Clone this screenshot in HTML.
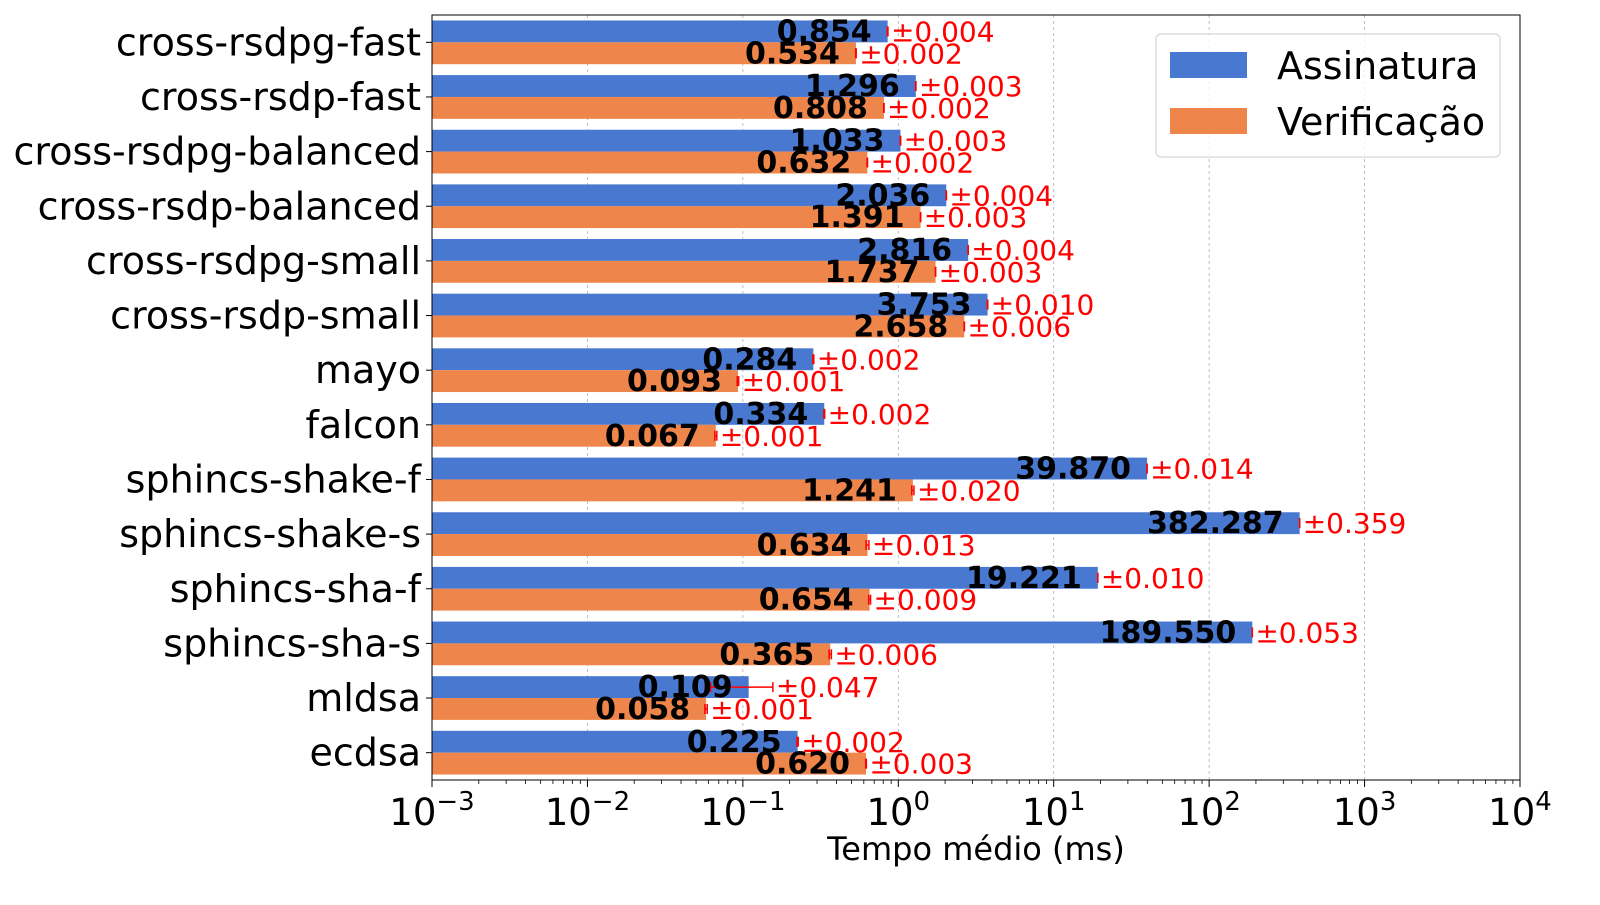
<!DOCTYPE html>
<html><head><meta charset="utf-8"><style>
body{margin:0;background:#fff;}
svg{font-family:"DejaVu Sans","Liberation Sans",sans-serif;}
</style></head><body>
<svg id="chart" width="1600" height="900" viewBox="0 0 1600 900"></svg>
<script>
const categories=["cross-rsdpg-fast","cross-rsdp-fast","cross-rsdpg-balanced","cross-rsdp-balanced","cross-rsdpg-small","cross-rsdp-small","mayo","falcon","sphincs-shake-f","sphincs-shake-s","sphincs-sha-f","sphincs-sha-s","mldsa","ecdsa"];
const signValues=[0.854,1.296,1.033,2.036,2.816,3.753,0.284,0.334,39.870,382.287,19.221,189.550,0.109,0.225];
const signErrors=[0.004,0.003,0.003,0.004,0.004,0.010,0.002,0.002,0.014,0.359,0.010,0.053,0.047,0.002];
const verifValues=[0.534,0.808,0.632,1.391,1.737,2.658,0.093,0.067,1.241,0.634,0.654,0.365,0.058,0.620];
const verifErrors=[0.002,0.002,0.002,0.003,0.003,0.006,0.001,0.001,0.020,0.013,0.009,0.006,0.001,0.003];
const tickExps=[-3,-2,-1,0,1,2,3,4];

const svg=document.getElementById('chart');
const NS="http://www.w3.org/2000/svg";
const L=432,R=1520,T=15,B=780;
const xs=v=>L+(Math.log10(v)+3)/7*(R-L);
const step=(B-T)/categories.length;
const yc=i=>T+step*(i+0.5);
const bh=step*0.4;
function mk(tag,attrs,parent){const e=document.createElementNS(NS,tag);for(const k in attrs)e.setAttribute(k,attrs[k]);(parent||svg).appendChild(e);return e;}

tickExps.forEach(e=>{const x=xs(Math.pow(10,e));
 const g=mk('line',{x1:x,x2:x,y1:T,y2:B,stroke:'#b0b0b0','stroke-width':0.8,'stroke-dasharray':'3,3'});
 
 
});
for(let e=-3;e<4;e++)for(let m=2;m<10;m++){const x=xs(m*Math.pow(10,e));
 const t=mk('line',{x1:x,x2:x,y1:B,y2:B+4,stroke:'#000','stroke-width':0.8});
 
 
}
function series(vals,errs,off,color,name){
 vals.forEach((v,i)=>{
  const y=yc(i)+off;
  const r=mk('rect',{x:L,y:y-bh/2,width:xs(v)-L,height:bh,fill:color});
  
  
  const lo=Math.max(v-errs[i],1e-3),hi=v+errs[i];
  const ge=mk('g',{stroke:'red','stroke-width':1.5});
  
  
  mk('line',{x1:xs(lo),x2:xs(hi),y1:y,y2:y},ge);
  mk('line',{x1:xs(lo),x2:xs(lo),y1:y-5,y2:y+5},ge);
  mk('line',{x1:xs(hi),x2:xs(hi),y1:y-5,y2:y+5},ge);
  const t=mk('text',{x:xs(v)-16,y:y+10,'text-anchor':'end','font-size':30,'font-weight':'bold',fill:'#000'});
  t.textContent=v.toFixed(3);
  
  
  const et=mk('text',{x:xs(hi)+3,y:y+10,'font-size':28,fill:'red'});
  et.textContent='±'+errs[i].toFixed(3);
  
  
 });
}
series(signValues,signErrors,-bh/2,'#4878d0','sign');
series(verifValues,verifErrors,bh/2,'#ee854a','verif');

const fr=mk('rect',{x:L,y:T,width:R-L,height:B-T,fill:'none',stroke:'#000','stroke-width':1});


categories.forEach((c,i)=>{
 mk('line',{x1:L-6,x2:L,y1:yc(i),y2:yc(i),stroke:'#000','stroke-width':1});
 const t=mk('text',{x:L-11,y:yc(i)+13,'text-anchor':'end','font-size':38,fill:'#000'});
 t.textContent=c;
 
 
});
tickExps.forEach(e=>{const x=xs(Math.pow(10,e));
 mk('line',{x1:x,x2:x,y1:B,y2:B+7,stroke:'#000','stroke-width':1});
 const t=mk('text',{x:x,y:B+45,'text-anchor':'middle','font-size':37,fill:'#000'});
 t.innerHTML='10<tspan dy="-15" font-size="26">'+(e<0?'−'+(-e):e)+'</tspan>';
 
 
});
const xt=mk('text',{x:(L+R)/2,y:860,'text-anchor':'middle','font-size':32,fill:'#000'});
xt.textContent='Tempo médio (ms)';


const lg=mk('g',{});


mk('rect',{x:1156,y:34,width:344,height:123,rx:5,fill:'#fff','fill-opacity':0.8,stroke:'#ccc'},lg);
mk('rect',{x:1170,y:52,width:77,height:26,fill:'#4878d0'},lg);
mk('rect',{x:1170,y:108,width:77,height:26,fill:'#ee854a'},lg);
const l1=mk('text',{x:1277,y:79,'font-size':38},lg);l1.textContent='Assinatura';


const l2=mk('text',{x:1277,y:135,'font-size':38},lg);l2.textContent='Verificação';


</script>
</body></html>
